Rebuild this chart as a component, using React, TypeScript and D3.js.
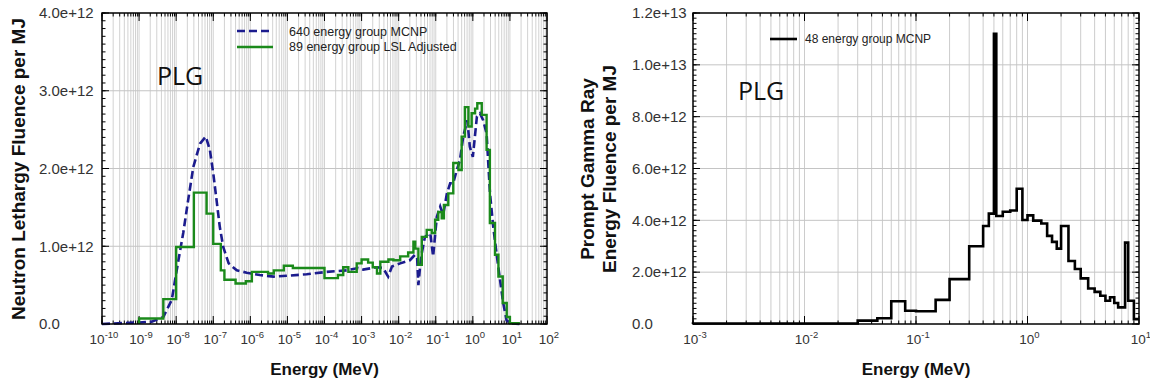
import React, { useEffect, useRef } from 'react';
import * as d3 from 'd3';

// left panel: neutron lethargy fluence per MJ
// 640 energy group MCNP, read as points (MeV, fluence)
const mcnpEnergy = [
  1e-10, 1e-9, 2.2e-9, 4.5e-9, 7.6e-9, 1.15e-8, 1.55e-8, 2.1e-8, 2.9e-8, 4.4e-8,
  6.3e-8, 8.1e-8, 1.0e-7, 1.23e-7, 1.5e-7, 1.86e-7, 2.6e-7, 4.3e-7, 8e-7, 1.8e-6,
  4.2e-6, 9.5e-6, 3.3e-5, 1.15e-4, 4e-4, 8.1e-4, 1.1e-3, 2.6e-3, 3.8e-3, 5.2e-3,
  6.6e-3, 1.1e-2, 2.0e-2, 2.75e-2, 3.15e-2, 3.4e-2, 3.8e-2, 4.2e-2, 5.1e-2, 7.1e-2,
  8.5e-2, 0.107, 0.132, 0.158, 0.2, 0.245, 0.295, 0.37, 0.45, 0.55,
  0.71, 0.83, 1.0, 1.29, 1.55, 1.9, 2.35, 2.9, 3.55, 4.35,
  5.4, 6.6, 8.1, 10, 18,
];
const mcnpFluence = [
  0, 0.02e12, 0.03e12, 0.09e12, 0.31e12, 0.82e12, 1.17e12, 1.59e12, 2.02e12, 2.32e12,
  2.41e12, 2.24e12, 1.94e12, 1.59e12, 1.25e12, 0.99e12, 0.78e12, 0.69e12, 0.66e12, 0.63e12,
  0.61e12, 0.62e12, 0.64e12, 0.67e12, 0.69e12, 0.72e12, 0.70e12, 0.73e12, 0.72e12, 0.61e12,
  0.74e12, 0.78e12, 0.82e12, 0.89e12, 0.85e12, 0.50e12, 0.75e12, 0.91e12, 1.12e12, 1.17e12,
  0.87e12, 1.38e12, 1.51e12, 1.40e12, 1.68e12, 1.81e12, 1.81e12, 1.98e12, 2.11e12, 2.41e12,
  2.62e12, 2.28e12, 2.15e12, 2.67e12, 2.71e12, 2.62e12, 2.45e12, 1.68e12, 1.25e12, 0.91e12,
  0.57e12, 0.27e12, 0.05e12, 0.01e12, 0,
];

// 89 energy group LSL adjusted: group edges (MeV) and group values
const lslEdges = [
  1e-9, 4.5e-9, 1e-8, 3e-8, 6.6e-8, 1e-7, 1.6e-7, 2e-7, 4e-7, 7.6e-7,
  1.1e-6, 3e-6, 4.3e-6, 8e-6, 1.4e-5, 1e-4, 2.3e-4, 3.2e-4, 4.4e-4, 7.4e-4,
  1e-3, 1.5e-3, 2e-3, 2.6e-3, 3.2e-3, 5.3e-3, 7.2e-3, 1.1e-2, 1.8e-2, 2.5e-2,
  2.8e-2, 3.4e-2, 4.2e-2, 5.7e-2, 7.8e-2, 9.6e-2, 0.117, 0.145, 0.166, 0.218,
  0.297, 0.41, 0.5, 0.61, 0.76, 0.93, 1.15, 1.32, 1.74, 2.35,
  2.88, 3.96, 4.9, 6.4, 8.2, 10, 18.6,
];
const lslFluence = [
  0.07e12, 0.32e12, 0.99e12, 1.69e12, 1.42e12, 1.03e12, 0.69e12, 0.57e12, 0.52e12, 0.55e12,
  0.67e12, 0.65e12, 0.69e12, 0.75e12, 0.72e12, 0.59e12, 0.63e12, 0.73e12, 0.67e12, 0.78e12,
  0.83e12, 0.79e12, 0.73e12, 0.65e12, 0.80e12, 0.83e12, 0.82e12, 0.87e12, 0.92e12, 1.06e12,
  0.97e12, 0.76e12, 1.12e12, 1.21e12, 1.17e12, 1.34e12, 1.44e12, 1.36e12, 1.53e12, 1.68e12,
  2.07e12, 1.98e12, 2.41e12, 2.79e12, 2.54e12, 2.71e12, 2.77e12, 2.84e12, 2.69e12, 2.24e12,
  1.30e12, 0.89e12, 0.61e12, 0.27e12, 0.09e12, 0.01e12,
];

// right panel: prompt gamma ray energy fluence, 48 energy group MCNP
const gammaEdges = [
  0.001, 0.03, 0.045, 0.06, 0.08, 0.1, 0.15, 0.2, 0.3, 0.4,
  0.45, 0.5, 0.525, 0.6, 0.7, 0.8, 0.9, 1.0, 1.125, 1.33,
  1.5, 1.66, 1.83, 2.0, 2.33, 2.66, 3.0, 3.5, 4.0, 4.5,
  5.0, 5.5, 6.0, 6.5, 7.5, 8.0, 9.0, 10.0,
];
const gammaFluence = [
  0.02e12, 0.13e12, 0.22e12, 0.88e12, 0.51e12, 0.49e12, 0.93e12, 1.73e12, 3.0e12, 3.78e12,
  4.26e12, 11.2e12, 4.17e12, 4.33e12, 4.38e12, 5.22e12, 4.01e12, 4.19e12, 3.99e12, 3.88e12,
  3.4e12, 3.17e12, 2.91e12, 3.78e12, 2.43e12, 2.12e12, 1.76e12, 1.37e12, 1.24e12, 1.09e12,
  0.9e12, 1.03e12, 0.81e12, 0.64e12, 3.14e12, 0.9e12, 0.19e12,
];

const neutronYTicks = [0, 1e12, 2e12, 3e12, 4e12];
const gammaYTicks = [0, 2e12, 4e12, 6e12, 8e12, 1e13, 1.2e13];
const neutronDecades = d3.range(-10, 3);
const gammaDecades = d3.range(-3, 2);

const FONT = '"Liberation Sans", Arial, sans-serif';

const fmtY = (v) => (v === 0 ? '0.0' : d3.format('.1e')(v));

function stepPoints(edges, values) {
  const pts = [[edges[0], 0]];
  values.forEach((v, i) => pts.push([edges[i], v]));
  pts.push([edges[edges.length - 1], values[values.length - 1]]);
  return pts;
}

function drawPanel(svg, cfg) {
  const { left, right, top, bottom, decades, yTicks, yMinor, labelX } = cfg;
  const x = d3.scaleLog()
    .domain([Math.pow(10, decades[0]), Math.pow(10, decades[decades.length - 1])])
    .range([left, right]);
  const y = d3.scaleLinear().domain([0, yTicks[yTicks.length - 1]]).range([bottom, top]);

  const minorX = [];
  decades.slice(0, -1).forEach(d => {
    for (let k = 1; k < 10; k++) minorX.push(k * Math.pow(10, d));
  });
  const majorX = decades.map(d => Math.pow(10, d));

  const g = svg.append('g');

  // grid
  g.selectAll('.vgrid').data(minorX.slice(1)).enter().append('line')
    .attr('x1', d => x(d)).attr('x2', d => x(d))
    .attr('y1', top).attr('y2', bottom)
    .attr('stroke', cfg.gridColor).attr('stroke-width', 1);
  g.selectAll('.hgrid').data(yTicks.slice(1, -1)).enter().append('line')
    .attr('x1', left).attr('x2', right)
    .attr('y1', d => y(d)).attr('y2', d => y(d))
    .attr('stroke', '#c4c4c4').attr('stroke-width', 1);

  // ticks
  const yMinorTicks = d3.range(0, yTicks[yTicks.length - 1] + 1, yMinor);
  const ticks = g.append('g').attr('stroke', '#000').attr('stroke-width', 1);
  yMinorTicks.forEach(v => {
    ticks.append('line').attr('x1', left).attr('x2', left + 3.5).attr('y1', y(v)).attr('y2', y(v));
    ticks.append('line').attr('x1', right).attr('x2', right - 3.5).attr('y1', y(v)).attr('y2', y(v));
  });
  yTicks.forEach(v => {
    ticks.append('line').attr('x1', left).attr('x2', left + 7).attr('y1', y(v)).attr('y2', y(v));
    ticks.append('line').attr('x1', right).attr('x2', right - 7).attr('y1', y(v)).attr('y2', y(v));
  });
  minorX.forEach(v => {
    ticks.append('line').attr('x1', x(v)).attr('x2', x(v)).attr('y1', bottom).attr('y2', bottom - 3.5);
    ticks.append('line').attr('x1', x(v)).attr('x2', x(v)).attr('y1', top).attr('y2', top + 3.5);
  });
  majorX.forEach(v => {
    ticks.append('line').attr('x1', x(v)).attr('x2', x(v)).attr('y1', bottom).attr('y2', bottom - 8);
    ticks.append('line').attr('x1', x(v)).attr('x2', x(v)).attr('y1', top).attr('y2', top + 8);
  });

  // y tick labels
  g.selectAll('.ylab').data(yTicks).enter().append('text')
    .attr('x', labelX).attr('y', d => y(d)).attr('dy', '0.35em')
    .style('font-family', FONT).style('font-size', '15px').style('fill', '#333')
    .text(d => fmtY(d));

  // x tick labels 10^n
  const xl = g.selectAll('.xlab').data(decades).enter().append('text')
    .attr('x', d => x(Math.pow(10, d)) + 2).attr('y', 344)
    .attr('text-anchor', 'middle')
    .style('font-family', FONT).style('font-size', '13.5px').style('fill', '#333');
  xl.append('tspan').text('10');
  xl.append('tspan').attr('dy', -6).style('font-size', '9.5px').text(d => String(d));

  g.append('text')
    .attr('x', (left + right) / 2).attr('y', 375).attr('text-anchor', 'middle')
    .style('font-family', FONT).style('font-size', '17px').style('font-weight', 'bold').style('fill', '#111')
    .text('Energy (MeV)');

  return { x, y, g };
}

export default function App() {
  const svgRef = useRef(null);

  useEffect(() => {
    const svg = d3.select(svgRef.current);
    svg.selectAll('*').remove();
    svg.append('rect').attr('width', 1150).attr('height', 384).attr('fill', '#fff');

    // ---- left panel
    const L = drawPanel(svg, {
      left: 102, right: 547, top: 13, bottom: 324,
      decades: neutronDecades, yTicks: neutronYTicks, yMinor: 1e11,
      labelX: 39, gridColor: '#d2d2d2',
    });

    const mcnpLine = d3.line().x(d => L.x(d[0])).y(d => L.y(d[1]));
    L.g.append('path')
      .attr('d', mcnpLine(mcnpEnergy.map((e, i) => [e, mcnpFluence[i]])))
      .attr('fill', 'none').attr('stroke', '#1c1c8e').attr('stroke-width', 2.6)
      .attr('stroke-dasharray', '8,4');

    const stepLine = d3.line().curve(d3.curveStepAfter).x(d => L.x(d[0])).y(d => L.y(d[1]));
    L.g.append('path')
      .attr('d', stepLine(stepPoints(lslEdges, lslFluence)))
      .attr('fill', 'none').attr('stroke', '#1b8a1b').attr('stroke-width', 2.4);

    L.g.append('rect').attr('x', 102).attr('y', 13).attr('width', 445).attr('height', 311)
      .attr('fill', 'none').attr('stroke', '#000').attr('stroke-width', 1.5);

    // legend
    L.g.append('line').attr('x1', 237).attr('x2', 273).attr('y1', 31).attr('y2', 31)
      .attr('stroke', '#1c1c8e').attr('stroke-width', 2.6).attr('stroke-dasharray', '8,4');
    L.g.append('line').attr('x1', 237).attr('x2', 273).attr('y1', 47).attr('y2', 47)
      .attr('stroke', '#1b8a1b').attr('stroke-width', 2.4);
    L.g.append('text').attr('x', 289).attr('y', 36)
      .style('font-family', FONT).style('font-size', '12.5px').style('fill', '#222')
      .text('640 energy group MCNP');
    L.g.append('text').attr('x', 289).attr('y', 51)
      .style('font-family', FONT).style('font-size', '12.5px').style('fill', '#222')
      .text('89 energy group LSL Adjusted');

    L.g.append('text').attr('x', 157).attr('y', 85)
      .style('font-family', '"Open Sans", "Noto Sans", sans-serif').style('font-size', '25px').style('fill', '#111')
      .text('PLG');

    svg.append('text').attr('transform', 'translate(25,169) rotate(-90)').attr('text-anchor', 'middle')
      .style('font-family', FONT).style('font-size', '19px').style('font-weight', 'bold').style('fill', '#111')
      .text('Neutron Lethargy Fluence per MJ');

    // ---- right panel
    const R = drawPanel(svg, {
      left: 693, right: 1139, top: 13, bottom: 324,
      decades: gammaDecades, yTicks: gammaYTicks, yMinor: 2e11,
      labelX: 632, gridColor: '#cccccc',
    });

    const gStep = d3.line().curve(d3.curveStepAfter).x(d => R.x(d[0])).y(d => R.y(d[1]));
    R.g.append('path')
      .attr('d', gStep(stepPoints(gammaEdges, gammaFluence)))
      .attr('fill', 'none').attr('stroke', '#000').attr('stroke-width', 2.6);

    R.g.append('rect').attr('x', 693).attr('y', 13).attr('width', 446).attr('height', 311)
      .attr('fill', 'none').attr('stroke', '#000').attr('stroke-width', 1.5);

    R.g.append('line').attr('x1', 770).attr('x2', 797).attr('y1', 39).attr('y2', 39)
      .attr('stroke', '#000').attr('stroke-width', 2.6);
    R.g.append('text').attr('x', 805).attr('y', 43)
      .style('font-family', FONT).style('font-size', '12px').style('fill', '#222')
      .text('48 energy group MCNP');

    R.g.append('text').attr('x', 738).attr('y', 100)
      .style('font-family', '"Open Sans", "Noto Sans", sans-serif').style('font-size', '25px').style('fill', '#111')
      .text('PLG');

    svg.append('text').attr('transform', 'translate(594,169) rotate(-90)').attr('text-anchor', 'middle')
      .style('font-family', FONT).style('font-size', '19px').style('font-weight', 'bold').style('fill', '#111')
      .text('Prompt Gamma Ray');
    svg.append('text').attr('transform', 'translate(616,169) rotate(-90)').attr('text-anchor', 'middle')
      .style('font-family', FONT).style('font-size', '19px').style('font-weight', 'bold').style('fill', '#111')
      .text('Energy Fluence per MJ');
  }, []);

  return (
    <svg ref={svgRef} width={1150} height={384}
      style={{ position: 'absolute', left: 0, top: 0, display: 'block' }} />
  );
}
